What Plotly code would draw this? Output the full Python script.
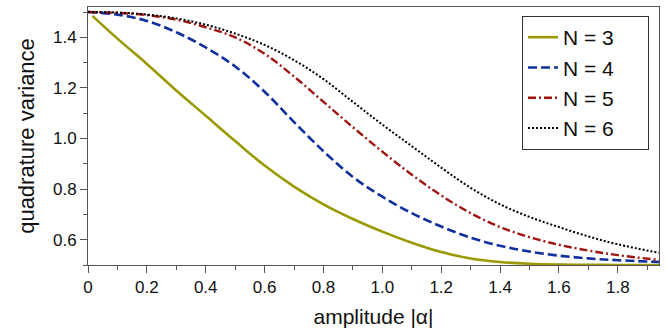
import plotly.graph_objects as go

# ---- data ----
x_grid = [0.0, 0.1, 0.2, 0.3, 0.4, 0.5, 0.6, 0.7, 0.8, 0.9, 1.0,
          1.1, 1.2, 1.3, 1.4, 1.5, 1.6, 1.7, 1.8, 1.94]
n3_x = [0.015, 0.1, 0.2, 0.3, 0.4, 0.5, 0.6, 0.7, 0.8, 0.9, 1.0,
        1.1, 1.2, 1.3, 1.4, 1.5, 1.6, 1.7, 1.8, 1.94]
n3_y = [1.485, 1.395, 1.295, 1.19, 1.09, 0.99, 0.893, 0.81, 0.74, 0.682, 0.632,
        0.588, 0.551, 0.526, 0.512, 0.505, 0.502, 0.501, 0.500, 0.500]
n4_y = [1.5, 1.49, 1.465, 1.42, 1.36, 1.285, 1.185, 1.065, 0.95, 0.848, 0.77,
        0.705, 0.652, 0.608, 0.576, 0.553, 0.537, 0.526, 0.519, 0.512]
n5_y = [1.5, 1.497, 1.488, 1.47, 1.44, 1.40, 1.335, 1.245, 1.145, 1.045, 0.948,
        0.857, 0.775, 0.705, 0.65, 0.61, 0.58, 0.557, 0.539, 0.52]
n6_y = [1.5, 1.498, 1.49, 1.475, 1.45, 1.415, 1.37, 1.31, 1.235, 1.145, 1.055,
        0.97, 0.885, 0.805, 0.74, 0.69, 0.65, 0.613, 0.582, 0.548]

names = ["N = 3", "N = 4", "N = 5", "N = 6"]
x_range = [0, 1.94]
y_range = [0.5, 1.52]
x_ticks = [0, 0.2, 0.4, 0.6, 0.8, 1.0, 1.2, 1.4, 1.6, 1.8]
x_tick_text = ["0", "0.2", "0.4", "0.6", "0.8", "1.0", "1.2", "1.4", "1.6", "1.8"]
y_ticks = [0.6, 0.8, 1.0, 1.2, 1.4]
y_tick_text = ["0.6", "0.8", "1.0", "1.2", "1.4"]

FONT = "Liberation Sans, Arial, Helvetica, sans-serif"
pad = "\u00a0" * 5

fig = go.Figure()
fig.add_trace(go.Scatter(x=n3_x, y=n3_y, mode="lines", name=names[0] + pad,
                         line=dict(color="#999900", width=2.6, shape="spline")))
fig.add_trace(go.Scatter(x=x_grid, y=n4_y, mode="lines", name=names[1] + pad,
                         line=dict(color="#10309e", width=2.6, dash="9px,4px", shape="spline")))
fig.add_trace(go.Scatter(x=x_grid, y=n5_y, mode="lines", name=names[2] + pad,
                         line=dict(color="#a01410", width=2.4, dash="8px,3px,2px,3px", shape="spline")))
fig.add_trace(go.Scatter(x=x_grid, y=n6_y, mode="lines", name=names[3] + pad,
                         line=dict(color="#000000", width=2.0, dash="2px,2px", shape="spline")))

axis_line = "#555555"
fig.update_layout(
    width=667, height=333,
    margin=dict(l=88, r=8, t=7, b=68, autoexpand=False),
    paper_bgcolor="white", plot_bgcolor="white",
    font=dict(family=FONT, color="#111111"),
    showlegend=True,
    legend=dict(x=0.9825, y=0.965, xanchor="right", yanchor="top",
                bgcolor="white", bordercolor="#333333", borderwidth=1,
                font=dict(family=FONT, size=21, color="#111111"),
                tracegroupgap=0),
    xaxis=dict(range=x_range, showgrid=False, zeroline=False, automargin=False,
               showline=True, linecolor=axis_line, linewidth=1, mirror=True,
               ticks="outside", ticklen=7, tickcolor=axis_line, tickwidth=1,
               tickvals=x_ticks, ticktext=x_tick_text,
               tickfont=dict(family=FONT, size=17, color="#111111"),
               minor=dict(dtick=0.1, tick0=0, ticks="outside", ticklen=4,
                          tickcolor=axis_line, tickwidth=1, showgrid=False),
               title=dict(text="amplitude |α|", standoff=12,
                          font=dict(family=FONT, size=21, color="#111111"))),
    yaxis=dict(range=y_range, showgrid=False, zeroline=False, automargin=False,
               showline=True, linecolor=axis_line, linewidth=1, mirror=True,
               ticks="outside", ticklen=7, tickcolor=axis_line, tickwidth=1,
               tickvals=y_ticks, ticktext=y_tick_text,
               tickfont=dict(family=FONT, size=17, color="#111111"),
               minor=dict(dtick=0.1, tick0=0.5, ticks="outside", ticklen=4,
                          tickcolor=axis_line, tickwidth=1, showgrid=False),
               title=dict(text="quadrature variance", standoff=12,
                          font=dict(family=FONT, size=22, color="#111111"))),
    xaxis2=dict(range=x_range, overlaying="x", anchor="y", side="bottom",
                showgrid=False, zeroline=False, showline=False, automargin=False,
                showticklabels=False, ticks="inside", ticklen=3,
                tickcolor=axis_line, dtick=0.1, tick0=0),
    yaxis2=dict(range=y_range, overlaying="y", anchor="x", side="left",
                showgrid=False, zeroline=False, showline=False, automargin=False,
                showticklabels=False, ticks="inside", ticklen=3,
                tickcolor=axis_line, dtick=0.1, tick0=0.5),
)

fig.write_html("out.html", config={"displayModeBar": False},
               post_script="document.body.style.margin='0';document.body.style.padding='0';")
